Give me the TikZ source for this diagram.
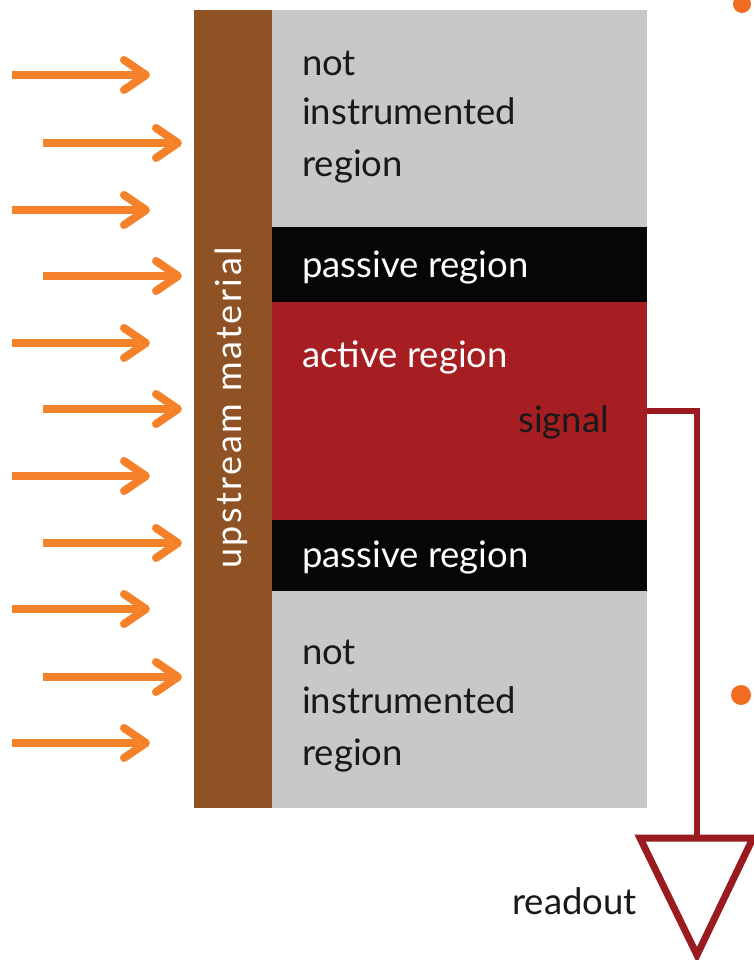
\documentclass[tikz,border=0pt]{standalone}
\usepackage{fontspec}
\setmainfont{Lato}
\usepackage{tikz}
\usetikzlibrary{arrows.meta,positioning}
\definecolor{upbrown}{HTML}{8E5224}
\definecolor{regiongray}{HTML}{C8C8C8}
\definecolor{passiveblack}{HTML}{060606}
\definecolor{activered}{HTML}{A61E22}
\definecolor{beamorange}{HTML}{F5822A}
\definecolor{dotorange}{HTML}{F26B21}
\definecolor{sigred}{HTML}{9A1B1F}

\begin{document}
\begin{tikzpicture}[x=1pt,y=-1pt,
  region/.style={anchor=north west,minimum width=375pt,inner sep=0pt,outer sep=0pt},
  lbl/.style={anchor=base west,inner sep=0pt,font=\fontsize{36.5}{40}\selectfont},
  beam/.style={-{Straight Barb[length=22pt,width=30pt,round]},line width=8pt,color=beamorange},
  sigline/.style={line width=6pt,color=sigred},
]
  \useasboundingbox (0,0) rectangle (753,960);

  \node[region,fill=regiongray,minimum height=217pt]   (top)  at (272,10)  {};
  \node[region,fill=passiveblack,minimum height=75pt]  (pas1) at (272,227) {};
  \node[region,fill=activered,minimum height=218pt]    (act)  at (272,302) {};
  \node[region,fill=passiveblack,minimum height=71pt]  (pas2) at (272,520) {};
  \node[region,fill=regiongray,minimum height=217pt]   (bot)  at (272,591) {};
  \node[anchor=north west,fill=upbrown,minimum width=78pt,minimum height=798pt,
        inner sep=0pt] (up) at (194,10) {};

  \node[rotate=90,white,inner sep=0pt,
        font=\fontsize{36}{40}\selectfont\addfontfeature{LetterSpace=7}]
    (uplbl) at (231,408) {upstream material};

  \node[lbl,color=black!90]  (t1) at (302,76)  {not};
  \node[lbl,color=black!90]  (t2) at (302,125) {instrumented};
  \node[lbl,color=black!90]  (t3) at (302,177) {region};
  \node[lbl,white]           (p1) at (302,277) {passive region};
  \node[lbl,white]           (a1) at (302,367) {active region};
  \node[lbl,color=black!90]  (sg) at (518,432) {signal};
  \node[lbl,white]           (p2) at (302,567) {passive region};
  \node[lbl,color=black!90]  (b1) at (302,664) {not};
  \node[lbl,color=black!90]  (b2) at (302,713) {instrumented};
  \node[lbl,color=black!90]  (b3) at (302,765) {region};
  \node[lbl,color=black!90]  (ro) at (512,914) {readout};

  \draw[beam] (12,75)  -- (150,75);
  \draw[beam] (43,143) -- (182,143);
  \draw[beam] (12,210) -- (150,210);
  \draw[beam] (43,276) -- (182,276);
  \draw[beam] (12,343) -- (150,343);
  \draw[beam] (43,409) -- (182,409);
  \draw[beam] (12,476) -- (150,476);
  \draw[beam] (43,543) -- (182,543);
  \draw[beam] (12,609) -- (150,609);
  \draw[beam] (43,677) -- (182,677);
  \draw[beam] (12,743) -- (150,743);

  \coordinate (rotop) at (697,838);
  \draw[sigline] (act.east) -| (rotop);
  \draw[sigline,line width=7pt] (640,838) -- (753,838) -- (697,955) -- cycle;

  \fill[dotorange] (742,4) circle (9pt);
  \fill[dotorange] (741,695) circle (10pt);
\end{tikzpicture}
\end{document}
